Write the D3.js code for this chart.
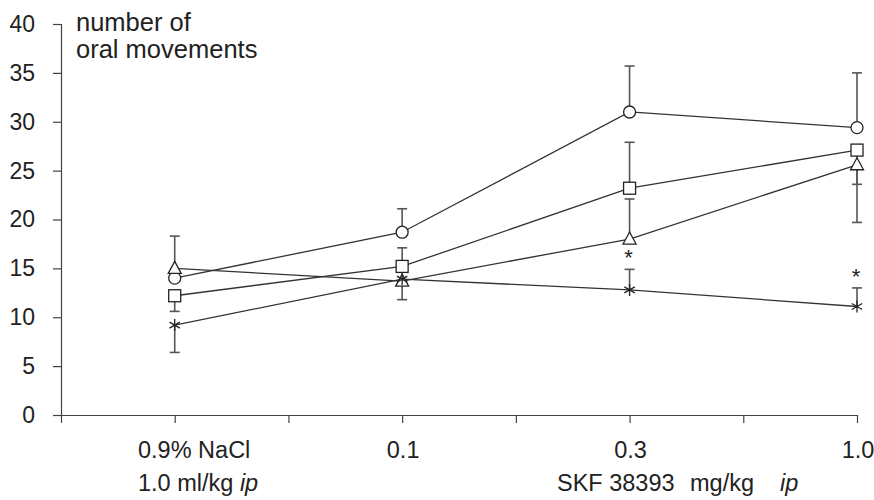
<!DOCTYPE html>
<html>
<head>
<meta charset="utf-8">
<script src="https://cdn.jsdelivr.net/npm/d3@7"></script>
<style>
  html, body { margin: 0; padding: 0; background: #fff; }
  text { font-family: "Liberation Sans", Arial, sans-serif; fill: #222; }
</style>
</head>
<body>
<svg id="chart" width="874" height="500"></svg>
<script>
// ---- data ----
const categories = ["0.9% NaCl", "0.1", "0.3", "1.0"];
const catPos = [1, 3, 5, 7];
const yTicks = [0, 5, 10, 15, 20, 25, 30, 35, 40];

const circleVals   = [14.0, 18.7, 31.0, 29.4];
const circleUp     = [4.3, 2.4, 4.7, 5.6];
const circleDown   = [0, 0, 0, 0];

const squareVals   = [12.2, 15.2, 23.2, 27.1];
const squareUp     = [0, 1.9, 4.7, 0];
const squareDown   = [1.6, 0, 0, 3.5];

const triangleVals = [15.0, 13.7, 18.0, 25.6];
const triangleUp   = [0, 0, 4.1, 0];
const triangleDown = [0, 1.9, 0, 5.9];

const starVals     = [9.2, 13.9, 12.8, 11.1];
const starUp       = [0, 0, 2.1, 1.9];
const starDown     = [2.8, 0, 0, 0];

const sigMarks = [0, 0, 1, 1]; // "*" above star series

const series = [
  { name: "circle",   vals: circleVals,   up: circleUp,   down: circleDown },
  { name: "square",   vals: squareVals,   up: squareUp,   down: squareDown },
  { name: "triangle", vals: triangleVals, up: triangleUp, down: triangleDown },
  { name: "star",     vals: starVals,     up: starUp,     down: starDown }
];

// ---- layout ----
const svg = d3.select("#chart");
const x = d3.scaleLinear().domain([0, 7]).range([61, 857]);
const y = d3.scaleLinear().domain([0, 40]).range([415, 24]);
const axisColor = "#444";

// y axis
const yAxis = svg.append("g").attr("transform", `translate(${x(0)},0)`)
  .call(d3.axisLeft(y).tickValues(yTicks).tickSize(8).tickPadding(18).tickFormat(d3.format("d")));
yAxis.select(".domain").attr("stroke", axisColor).attr("stroke-width", 1.2);
yAxis.selectAll(".tick line").attr("stroke", axisColor).attr("stroke-width", 1.2);
yAxis.selectAll(".tick text").style("font-size", "23px").attr("fill", "#222")
  .style("font-family", '"Liberation Sans", Arial, sans-serif');

// x axis
const xAxis = svg.append("g").attr("transform", `translate(0,${y(0)})`)
  .call(d3.axisBottom(x).tickValues(d3.range(0, 8)).tickSize(8).tickSizeOuter(0).tickFormat(""));
xAxis.select(".domain").attr("stroke", axisColor).attr("stroke-width", 1.2);
xAxis.selectAll(".tick line").attr("stroke", axisColor).attr("stroke-width", 1.2);

// x category labels
const xLabelFont = "23.5px";
svg.append("text").attr("x", 138).attr("y", 458).style("font-size", xLabelFont).text(categories[0]);
[1, 2, 3].forEach(i => {
  svg.append("text").attr("x", x(catPos[i]) + 1).attr("y", 458)
    .attr("text-anchor", "middle").style("font-size", xLabelFont).text(categories[i]);
});

// second-line labels
const l1 = svg.append("text").attr("x", 138).attr("y", 491).style("font-size", xLabelFont);
l1.append("tspan").text("1.0 ml/kg ");
l1.append("tspan").style("font-style", "italic").text("ip");
const l2 = svg.append("text").attr("y", 491).style("font-size", xLabelFont);
l2.append("tspan").attr("x", 557).text("SKF 38393");
l2.append("tspan").attr("x", 690).text("mg/kg");
l2.append("tspan").attr("x", 780).style("font-style", "italic").text("ip");

// y title
svg.append("text").attr("x", 76).attr("y", 31).style("font-size", "25.5px").text("number of");
svg.append("text").attr("x", 76).attr("y", 58).style("font-size", "25.5px").text("oral movements");

// ---- error bars ----
const ebColor = "#555";
const g = svg.append("g");
series.forEach(s => {
  s.vals.forEach((v, i) => {
    const cx = x(catPos[i]);
    [[s.up[i], 1], [s.down[i], -1]].forEach(([e, dir]) => {
      if (!e) return;
      const y0 = y(v), y1 = y(v + dir * e);
      g.append("line").attr("x1", cx).attr("x2", cx).attr("y1", y0).attr("y2", y1)
        .attr("stroke", ebColor).attr("stroke-width", 1.6);
      g.append("line").attr("x1", cx - 5).attr("x2", cx + 5).attr("y1", y1).attr("y2", y1)
        .attr("stroke", ebColor).attr("stroke-width", 1.6);
    });
  });
});

// ---- lines ----
const line = d3.line().x((d, i) => x(catPos[i])).y(d => y(d));
series.forEach(s => {
  svg.append("path").datum(s.vals).attr("d", line)
    .attr("fill", "none").attr("stroke", "#333").attr("stroke-width", 1.3);
});

// ---- markers ----
const mk = svg.append("g");
function drawMarker(type, cx, cy) {
  const st = { stroke: "#222", "stroke-width": 1.3, fill: "#fff" };
  let el;
  if (type === "circle") {
    el = mk.append("circle").attr("cx", cx).attr("cy", cy).attr("r", 6);
  } else if (type === "square") {
    el = mk.append("rect").attr("x", cx - 6).attr("y", cy - 6).attr("width", 12).attr("height", 12);
  } else if (type === "triangle") {
    el = mk.append("path").attr("d", `M${cx},${cy - 7}L${cx + 6.5},${cy + 5}L${cx - 6.5},${cy + 5}Z`);
  } else {
    const r = 6;
    const p = `M${cx},${cy - r}L${cx},${cy + r}` +
      `M${cx - r * 0.87},${cy - r * 0.5}L${cx + r * 0.87},${cy + r * 0.5}` +
      `M${cx - r * 0.87},${cy + r * 0.5}L${cx + r * 0.87},${cy - r * 0.5}`;
    mk.append("path").attr("d", p).attr("stroke", "#222").attr("stroke-width", 1.3).attr("fill", "none");
    return;
  }
  Object.entries(st).forEach(([k, v]) => el.attr(k, v));
}
series.forEach(s => s.vals.forEach((v, i) => drawMarker(s.name, x(catPos[i]), y(v))));

// significance marks
sigMarks.forEach((m, i) => {
  if (!m) return;
  svg.append("text").attr("x", x(catPos[i]) - 1).attr("y", y(starVals[i] + starUp[i]) - 4)
    .attr("text-anchor", "middle").style("font-size", "22px").text("*");
});
</script>
</body>
</html>
